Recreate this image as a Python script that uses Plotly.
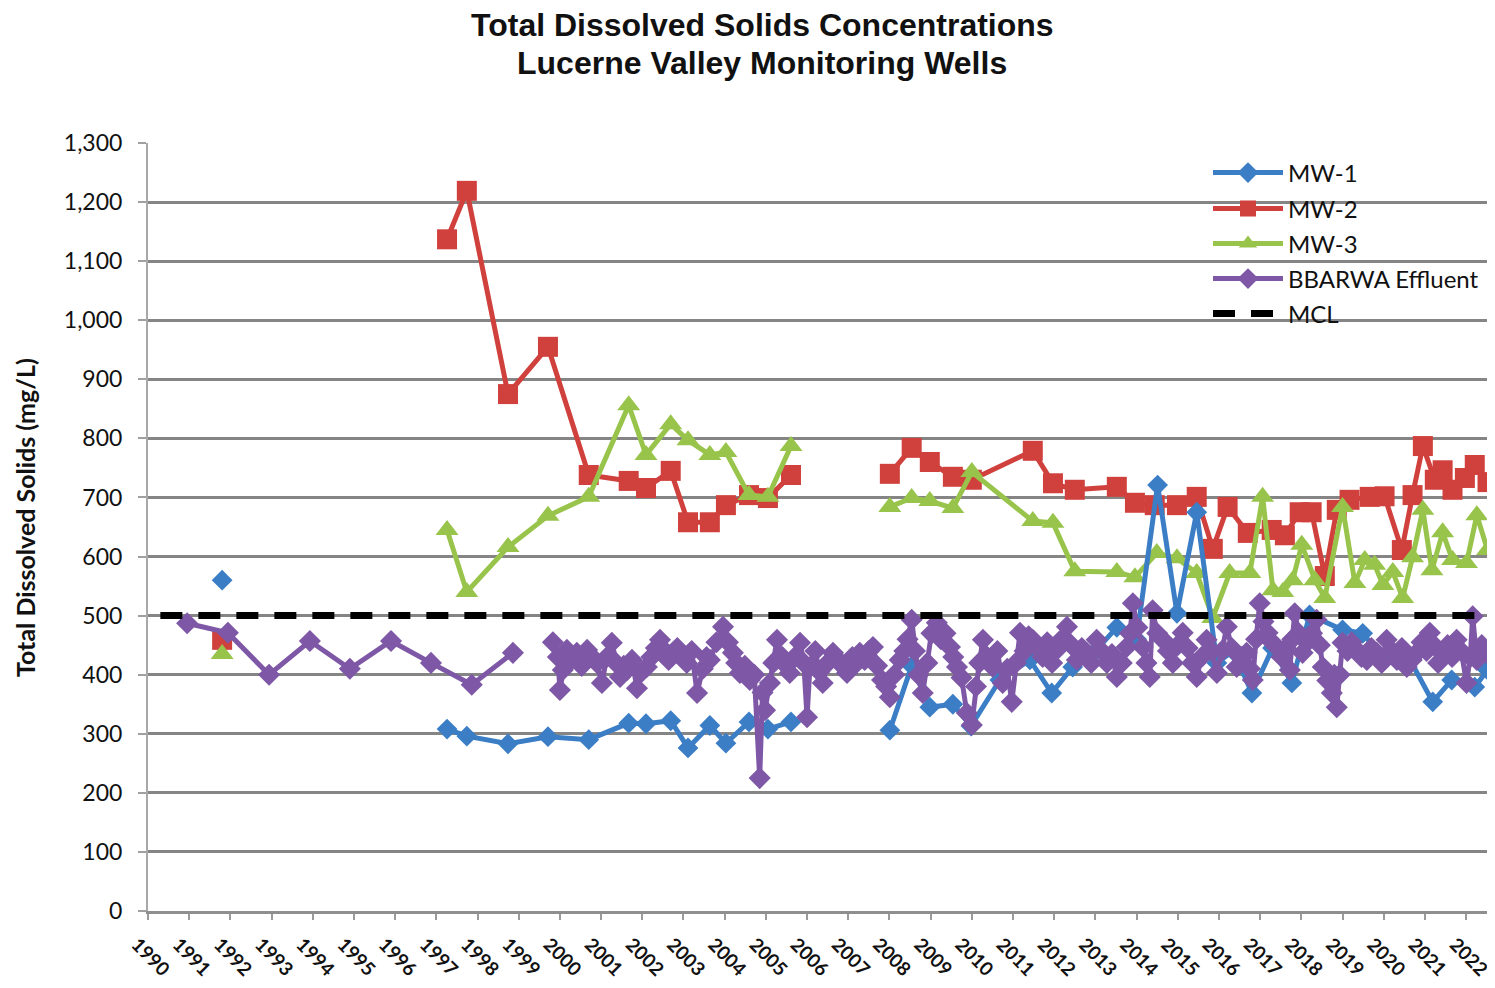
import plotly.graph_objects as go

# ---------------- data ----------------
year_ticks = list(range(1990, 2023))
year_labels = [str(y) for y in year_ticks]
y_ticks = list(range(0, 1301, 100))
y_labels = [f"{v:,}" for v in y_ticks]

mw1_x = [1991.80, None,
         1997.26, 1997.74, 1998.74, 1999.71, 2000.70, 2001.67, 2002.09, 2002.69, 2003.11, 2003.64,
         2004.03, 2004.59, 2005.05, 2005.61, None,
         2008.01, 2008.54, 2008.98, 2009.54, 2009.98, 2010.68, 2011.41, 2011.94, 2012.45, 2013.00,
         2013.52, 2014.00, 2014.51, 2014.98, 2015.46, 2015.95, 2016.35, 2016.80, 2017.30, 2017.77,
         2018.20, 2019.00, 2019.49, 2020.02, 2020.60, 2021.19, 2021.65, 2022.21, 2022.52]
mw1_y = [560, None,
         308, 296, 283, 295, 290, 318, 317, 322, 276, 314,
         284, 320, 308, 320, None,
         306, 415, 345, 350, 313, 391, 425, 369, 413, 440,
         480, 460, 721, 504, 675, 420, 440, 369, 445, 386,
         501, 476, 470, 425, 430, 354, 391, 379, 408]

mw2_x = [1991.80, None,
         1997.26, 1997.74, 1998.74, 1999.71, 2000.70, 2001.67, 2002.09, 2002.69, 2003.11, 2003.64,
         2004.03, 2004.59, 2005.05, 2005.61, None,
         2008.01, 2008.54, 2008.98, 2009.54, 2010.00, 2011.48, 2011.97, 2012.50, 2013.52, 2013.96,
         2014.44, 2014.98, 2015.46, 2015.85, 2016.21, 2016.70, 2017.28, 2017.60, 2017.96, 2018.25,
         2018.57, 2018.86, 2019.17, 2019.66, 2020.02, 2020.44, 2020.70, 2020.95, 2021.24, 2021.43,
         2021.67, 2021.97, 2022.21, 2022.52]
mw2_y = [459, None,
         1137, 1219, 875, 955, 738, 728, 716, 745, 658, 658,
         687, 704, 699, 738, None,
         740, 784, 760, 735, 730, 779, 724, 713, 718, 691,
         687, 687, 701, 613, 684, 640, 645, 636, 675, 675,
         567, 679, 696, 701, 702, 611, 704, 787, 730, 746,
         713, 733, 755, 726]

mw3_x = [1991.80, None,
         1997.26, 1997.74, 1998.74, 1999.71, 2000.70, 2001.67, 2002.09, 2002.69, 2003.11, 2003.64,
         2004.03, 2004.59, 2005.05, 2005.61, None,
         2008.01, 2008.54, 2008.98, 2009.54, 2010.00, 2011.48, 2011.97, 2012.50, 2013.52, 2013.96,
         2014.49, 2014.98, 2015.46, 2015.85, 2016.26, 2016.75, 2017.06, 2017.31, 2017.55, 2017.79,
         2018.01, 2018.33, 2018.57, 2019.00, 2019.30, 2019.54, 2019.78, 2019.98, 2020.22, 2020.46,
         2020.70, 2020.95, 2021.17, 2021.43, 2021.67, 2022.01, 2022.26, 2022.52]
mw3_y = [435, None,
         645, 540, 616, 669, 701, 856, 772, 824, 797, 772,
         777, 704, 701, 787, None,
         684, 699, 694, 682, 743, 660, 657, 575, 574, 565,
         606, 597, 572, 496, 572, 572, 701, 543, 540, 560,
         620, 560, 530, 684, 555, 594, 586, 552, 574, 530,
         599, 679, 577, 641, 594, 589, 670, 611]

bb_x = [1990.95, 1991.94, 1992.94, 1993.93, 1994.90, 1995.90, 1996.87, 1997.86, 1998.86, None,
        1999.83, 1999.95, 2000.00, 2000.07, 2000.17, 2000.28, 2000.41, 2000.53, 2000.66, 2000.78,
        2000.90, 2001.02, 2001.14, 2001.26, 2001.36, 2001.46, 2001.55, 2001.63, 2001.75, 2001.87,
        2001.99, 2002.11, 2002.22, 2002.33, 2002.43, 2002.55, 2002.64, 2002.74, 2002.85, 2002.96,
        2003.08, 2003.20, 2003.33, 2003.47, 2003.56, 2003.64, 2003.80, 2003.96, 2004.08, 2004.20,
        2004.28, 2004.37, 2004.49, 2004.61, 2004.72, 2004.85, 2004.92, 2004.98, 2005.10, 2005.18,
        2005.27, 2005.40, 2005.50, 2005.58, 2005.70, 2005.83, 2005.92, 2006.00, 2006.07, 2006.20,
        2006.30, 2006.38, 2006.50, 2006.63, 2006.75, 2006.86, 2006.97, 2007.10, 2007.20, 2007.28,
        2007.40, 2007.50, 2007.60, 2007.70, 2007.82, 2007.92, 2008.01, 2008.12, 2008.25, 2008.36,
        2008.44, 2008.54, 2008.62, 2008.70, 2008.81, 2008.92, 2009.02, 2009.15, 2009.25, 2009.36,
        2009.47, 2009.55, 2009.64, 2009.75, 2009.88, 2010.00, 2010.10, 2010.18, 2010.27, 2010.38,
        2010.51, 2010.62, 2010.75, 2010.86, 2010.97, 2011.07, 2011.17, 2011.28, 2011.38, 2011.48,
        2011.60, 2011.72, 2011.83, 2011.95, 2012.06, 2012.18, 2012.31, 2012.42, 2012.55, 2012.67,
        2012.79, 2012.90, 2013.03, 2013.15, 2013.28, 2013.40, 2013.52, 2013.64, 2013.76, 2013.84,
        2013.91, 2014.02, 2014.15, 2014.24, 2014.32, 2014.39, 2014.50, 2014.64, 2014.76, 2014.88,
        2015.00, 2015.12, 2015.24, 2015.35, 2015.46, 2015.58, 2015.70, 2015.82, 2015.95, 2016.07,
        2016.19, 2016.31, 2016.43, 2016.55, 2016.67, 2016.75, 2016.82, 2016.90, 2016.99, 2017.08,
        2017.18, 2017.29, 2017.40, 2017.52, 2017.62, 2017.72, 2017.78, 2017.84, 2017.94, 2018.03,
        2018.14, 2018.26, 2018.37, 2018.45, 2018.52, 2018.63, 2018.74, 2018.80, 2018.86, 2018.93,
        2019.00, 2019.12, 2019.22, 2019.34, 2019.46, 2019.59, 2019.70, 2019.83, 2019.95, 2020.07,
        2020.20, 2020.32, 2020.44, 2020.56, 2020.68, 2020.80, 2020.92, 2021.04, 2021.12, 2021.22,
        2021.32, 2021.43, 2021.55, 2021.66, 2021.77, 2021.88, 2022.01, 2022.10, 2022.16, 2022.26,
        2022.38, 2022.50]
bb_y = [487, 471, 400, 457, 410, 457, 420, 383, 437, None,
        455, 430, 374, 408, 442, 425, 437, 415, 442, 430,
        420, 386, 430, 454, 420, 396, 415, 408, 425, 377,
        405, 413, 430, 445, 459, 440, 425, 437, 445, 430,
        420, 440, 369, 410, 430, 425, 455, 481, 455, 437,
        420, 403, 415, 391, 400, 225, 370, 340, 386, 420,
        459, 430, 415, 403, 430, 454, 420, 328, 413, 440,
        405, 386, 420, 437, 425, 415, 403, 430, 420, 437,
        425, 440, 447, 415, 391, 380, 362, 400, 425, 440,
        460, 493, 440, 400, 369, 420, 470, 488, 460, 470,
        447, 430, 413, 395, 335, 315, 380, 420, 459, 430,
        413, 440, 386, 410, 354, 420, 471, 440, 465, 459,
        445, 430, 455, 420, 442, 460, 481, 450, 425, 445,
        437, 420, 459, 440, 420, 435, 396, 420, 447, 470,
        521, 480, 447, 420, 396, 509, 470, 459, 440, 420,
        450, 471, 445, 420, 396, 430, 459, 440, 403, 440,
        481, 445, 413, 430, 437, 410, 391, 460, 521, 490,
        471, 455, 447, 430, 445, 408, 460, 504, 470, 437,
        455, 470, 493, 450, 413, 390, 369, 400, 345, 400,
        454, 440, 455, 442, 430, 425, 445, 437, 420, 459,
        440, 425, 445, 413, 425, 437, 455, 440, 471, 450,
        420, 437, 450, 430, 459, 440, 386, 430, 499, 425,
        450, 437]

mcl_x = [1990.3, 2022.55]
mcl_y = [500, 500]

# ---------------- styling ----------------
BLUE = "#3B7EC6"
RED = "#D0403C"
GREEN = "#98C44C"
PURPLE = "#7E58A6"
GRID = "#858585"

# the page body adds an 8px offset; the figure is sized so it ends at the window edge
OFF = 8
FIG_W, FIG_H = 1495 - OFF, 988 - OFF
PLOT_L, PLOT_T, PLOT_R, PLOT_B = 148, 143, 1490, 911   # target window pixels


def py(pix):
    """window pixel row -> paper y"""
    return 1 - (pix - PLOT_T) / (PLOT_B - PLOT_T)


def px(pix):
    """window pixel column -> paper x"""
    return (pix - PLOT_L) / (PLOT_R - PLOT_L)


fig = go.Figure()

fig.add_trace(go.Scatter(x=mw2_x, y=mw2_y, name="MW-2", mode="lines+markers", legend="legend2",
                         line=dict(color=RED, width=5),
                         marker=dict(symbol="square", size=20, color=RED)))
fig.add_trace(go.Scatter(x=mw3_x, y=mw3_y, name="MW-3", mode="lines+markers", legend="legend3",
                         line=dict(color=GREEN, width=5),
                         marker=dict(symbol="triangle-up", size=20, color=GREEN)))
fig.add_trace(go.Scatter(x=mw1_x, y=mw1_y, name="MW-1", mode="lines+markers", legend="legend",
                         line=dict(color=BLUE, width=5),
                         marker=dict(symbol="diamond", size=16, color=BLUE)))
fig.add_trace(go.Scatter(x=bb_x, y=bb_y, name="BBARWA Effluent", mode="lines+markers", legend="legend4",
                         line=dict(color=PURPLE, width=5),
                         marker=dict(symbol="diamond", size=17, color=PURPLE)))
fig.add_trace(go.Scatter(x=mcl_x, y=mcl_y, name="MCL", mode="lines", legend="legend5",
                         line=dict(color="black", width=7, dash="22px,16px")))

legend_rows = [173, 209, 244, 279, 314]
legend_common = dict(xanchor="left", yanchor="middle", bgcolor="rgba(255,255,255,0)",
                     font=dict(family="Lato", size=24, color="#111111"), itemwidth=70,
                     borderwidth=0, tracegroupgap=0)
legends = {}
for i, row in enumerate(legend_rows):
    key = "legend" if i == 0 else f"legend{i + 1}"
    legends[key] = dict(x=px(1208), y=py(row), **legend_common)

fig.update_layout(
    width=FIG_W, height=FIG_H,
    paper_bgcolor="white", plot_bgcolor="white",
    margin=dict(l=PLOT_L - OFF, r=FIG_W - (PLOT_R - OFF), t=PLOT_T - OFF, b=FIG_H - (PLOT_B - OFF)),
    font=dict(family="Lato", color="#111111"),
    showlegend=True,
    **legends,
    xaxis=dict(range=[1990, 2022.58], tickmode="array", tickvals=year_ticks, ticktext=year_labels,
               tickangle=45, tickfont=dict(family="Lato", size=19, weight="bold", color="#111111"),
               showgrid=False, zeroline=False, showline=True, linecolor="#8F8F8F", linewidth=3,
               ticks="outside", ticklen=6, tickcolor="#9A9A9A", tickwidth=1.5, ticklabelstandoff=6,
               ticklabelshift=-11, automargin=False, ticklabeloverflow="allow"),
    yaxis=dict(range=[0, 1300], tickmode="array", tickvals=y_ticks, ticktext=y_labels,
               tickfont=dict(family="Lato", size=23, color="#111111"),
               showgrid=True, gridcolor=GRID, gridwidth=3, zeroline=False,
               showline=True, linecolor="#A8A8A8", linewidth=2,
               ticks="outside", ticklen=8, tickcolor="#A0A0A0", tickwidth=1.5, ticklabelstandoff=11,
               automargin=False),
)

fig.add_annotation(text="<b>Total Dissolved Solids Concentrations</b>", xref="paper", yref="paper",
                   x=px(762), y=py(25), showarrow=False, xanchor="center", yanchor="middle",
                   borderpad=0, font=dict(family="Liberation Sans", size=32, color="#111111"))
fig.add_annotation(text="<b>Lucerne Valley Monitoring Wells</b>", xref="paper", yref="paper",
                   x=px(762), y=py(63), showarrow=False, xanchor="center", yanchor="middle",
                   borderpad=0, font=dict(family="Liberation Sans", size=32, color="#111111"))
fig.add_annotation(text="<b>Total Dissolved Solids (mg/L)</b>", xref="paper", yref="paper",
                   x=px(25), y=py(518), showarrow=False, textangle=-90,
                   xanchor="center", yanchor="middle",
                   font=dict(family="Lato", size=25, color="#111111"))

fig.write_html("out.html")
